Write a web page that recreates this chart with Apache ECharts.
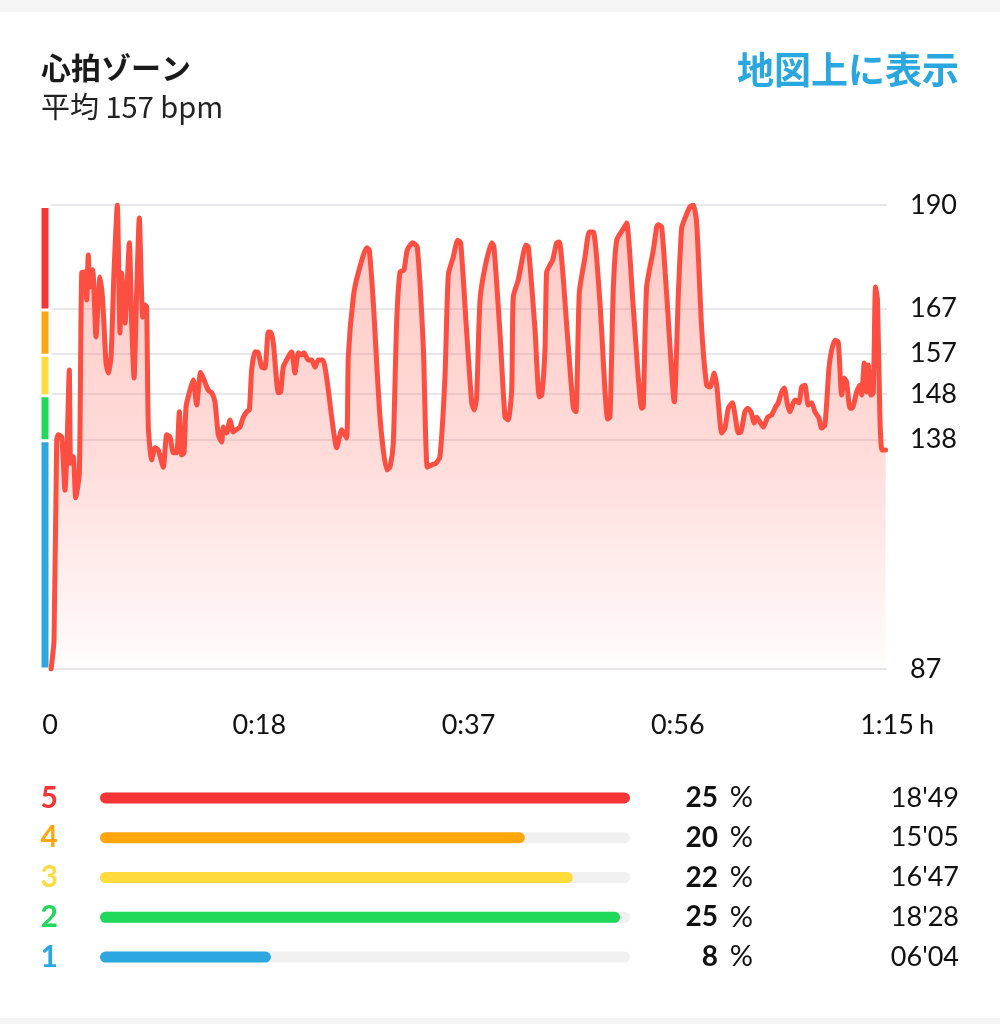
<!DOCTYPE html>
<html><head><meta charset="utf-8">
<script src="https://cdn.jsdelivr.net/npm/echarts@6/dist/echarts.min.js"></script>
<style>html,body{margin:0;padding:0;background:#fff}#c{width:1000px;height:1024px}</style>
</head><body><div id="c"></div>
<script>
// heart-rate samples: elapsed minutes and bpm
const minutes = [0.1,0.36,0.6,0.74,1.05,1.34,1.5,1.73,1.85,2.09,2.3,2.63,2.84,3.14,3.29,3.43,3.58,3.83,4.12,4.48,4.72,5.02,5.22,5.47,5.73,6.03,6.27,6.42,6.72,7.11,7.32,7.53,7.77,8.0,8.31,8.51,8.66,8.81,9.11,9.41,9.7,10.15,10.46,10.75,11.05,11.35,11.59,11.8,12.01,12.19,12.54,12.84,13.14,13.5,13.8,14.18,14.49,14.78,15.08,15.38,15.53,15.83,16.13,16.42,16.67,17.02,17.32,17.62,17.86,18.07,18.37,18.66,18.97,19.26,19.56,19.77,20.01,20.46,20.67,20.9,21.35,21.66,21.95,22.25,22.55,22.76,23.14,23.45,23.74,24.04,24.43,24.64,24.94,25.24,25.69,26.14,26.58,26.73,27.18,27.62,28.38,28.61,28.97,29.57,30.17,30.46,30.76,31.06,31.36,31.72,32.01,32.5,32.91,33.45,33.81,34.2,34.59,34.94,35.39,35.69,36.14,36.53,36.8,37.34,37.79,38.02,38.23,38.53,38.98,39.58,39.78,40.32,40.77,41.06,41.37,41.51,41.96,42.65,42.86,43.46,43.84,44.06,44.35,44.5,44.8,45.04,45.4,45.63,46.35,46.89,47.13,47.43,47.94,48.32,48.68,49.28,49.97,50.18,50.47,50.78,51.37,51.67,52.26,53.02,53.16,53.46,54.06,54.36,54.5,54.81,55.26,55.94,56.3,56.6,56.9,57.34,57.64,57.94,58.39,58.84,59.14,59.52,59.76,60.19,60.48,60.78,61.14,61.38,61.67,61.91,62.27,62.51,62.81,63.11,63.32,63.62,63.91,64.31,64.66,64.96,65.25,65.56,65.79,66.09,66.3,66.6,66.81,67.11,67.35,67.65,67.94,68.25,68.54,68.9,69.14,69.44,69.8,70.04,70.34,70.63,70.94,71.17,71.38,71.68,71.88,72.28,72.58,72.73,72.96,73.18,73.32,73.56,73.77,73.97,74.15,74.37,74.55,74.88];
const bpm = [87,93.4,137.8,139.0,138.5,126.7,134.1,153.4,132.7,134.1,125.0,130.5,174.9,175.1,168.9,178.9,171.8,175.6,160.7,174.0,168.9,154.9,152.7,156.3,174.9,190.0,161.6,174.9,163.8,181.6,163.8,151.6,171.1,187.1,165.1,167.8,167.4,140.7,133.4,136.1,135.6,131.8,139.0,138.5,135.0,135.0,144.1,134.5,135.0,145.2,148.9,151.2,145.6,152.9,151.2,148.9,148.3,146.3,139.0,137.4,140.7,139.4,142.3,139.6,140.1,140.7,142.9,144.1,144.5,153.4,157.4,157.2,154.0,153.8,161.8,161.8,159.4,148.3,148.5,154.0,156.3,157.4,152.7,157.2,156.7,157.2,155.6,155.6,154.0,155.6,155.6,154.0,148.9,142.9,136.1,140.1,138.3,156.3,169.6,174.9,180.5,180.0,168.3,142.9,131.2,131.8,137.2,163.8,175.1,175.6,180.0,181.6,180.7,158.5,131.8,132.3,132.7,134.1,151.8,174.5,178.5,182.2,181.6,161.6,146.1,144.5,147.4,168.9,176.2,181.6,180.7,161.6,142.9,142.3,148.9,169.6,173.4,181.1,180.7,162.3,147.4,147.8,157.8,175.1,176.7,177.8,181.6,181.8,161.6,144.9,144.1,170.5,178.5,184.0,184.0,168.3,142.5,142.9,171.1,182.2,184.7,186.0,167.4,144.9,145.2,171.8,180.0,185.1,185.6,185.1,170.0,146.3,170.0,184.9,187.1,189.6,190.0,186.2,162.7,150.0,149.6,152.7,149.6,139.4,140.5,144.9,146.1,143.4,139.4,139.6,144.1,144.9,144.1,141.6,142.9,141.8,140.7,142.9,143.4,144.9,146.1,148.5,149.4,145.6,144.1,146.1,146.7,146.1,149.6,150.0,145.6,146.1,144.1,142.7,140.5,141.2,153.8,157.8,160.0,159.6,147.8,151.6,150.7,144.9,144.9,148.5,150.0,147.8,154.9,148.5,154.5,147.8,148.3,171.8,168.9,142.3,135.6,135.6];

const yTicks = [87, 138, 148, 157, 167, 190];          // zone boundaries
const xTickLabels = ['0', '0:18', '0:37', '0:56', '1:15'];
const xUnit = 'h';
const xMaxMinutes = 75;

const zoneNames = ['5', '4', '3', '2', '1'];
const zoneColors = ['#f73436', '#ffa60d', '#ffdb3b', '#1fd95a', '#2ca7e0'];
const zoneUpper = [190, 167, 157, 148, 138];
const zonePct = [25, 20, 22, 25, 8];
const zoneSeconds = [1129, 905, 1007, 1108, 364];

const titleText = '心拍ゾーン';
const subText = '平均 157 bpm';
const linkText = '地図上に表示';

const NUM = 'Lato, "Open Sans", sans-serif';
const JP = '"Noto Sans CJK JP", sans-serif';

function fmtTime(s) {
  const m = Math.floor(s / 60), r = s % 60;
  return String(m).padStart(2, '0') + "'" + String(r).padStart(2, '0');
}

const chart = echarts.init(document.getElementById('c'), null, { renderer: 'canvas' });

const zoneSeries = zoneNames.map((n, i) => ({
  type: 'bar', xAxisIndex: 1, yAxisIndex: 1,
  data: [zoneUpper[i]], barWidth: 13, barGap: '-100%',
  itemStyle: { color: zoneColors[i], borderColor: '#fff', borderWidth: 3 },
  silent: true, z: 1
}));

const zoneRich = {};
zoneNames.forEach((n, i) => {
  zoneRich['z' + i] = { fontFamily: NUM, fontSize: 30, fontWeight: 'bold', color: zoneColors[i] };
});

chart.setOption({
  backgroundColor: '#fff',
  animation: false,
  title: [
    { text: titleText, subtext: subText, left: 41, top: 53, itemGap: 9, padding: 0,
      textStyle: { fontFamily: JP, fontSize: 30, fontWeight: 'bold', color: '#1a1a1a' },
      subtextStyle: { fontFamily: JP, fontSize: 29, color: '#222' } },
    { text: linkText, right: 41, top: 51, padding: 0,
      textStyle: { fontFamily: JP, fontSize: 37, fontWeight: 'bold', color: '#2aa7df' } }
  ],
  graphic: [
    { type: 'rect', shape: { x: 0, y: 0, width: 1000, height: 12 }, style: { fill: '#f5f5f5' }, silent: true },
    { type: 'rect', shape: { x: 0, y: 1018, width: 1000, height: 6 }, style: { fill: '#f5f5f5' }, silent: true },
    { type: 'text', left: 919, top: 712, silent: true,
      style: { text: xUnit, font: '27px ' + NUM, fill: '#111' } }
  ],
  grid: [
    { left: 50, right: 113, top: 205, bottom: 355, outerBoundsMode: 'none' },
    { left: 38.5, width: 13, top: 205, bottom: 355, outerBoundsMode: 'none' },
    { left: 100, right: 370, top: 778, bottom: 47, outerBoundsMode: 'none' }
  ],
  xAxis: [
    { type: 'value', gridIndex: 0, min: 0, max: xMaxMinutes, interval: xMaxMinutes / 4,
      axisLine: { show: false }, axisTick: { show: false }, splitLine: { show: false },
      axisLabel: { margin: 43, fontFamily: NUM, fontSize: 27, color: '#111',
        formatter: v => xTickLabels[Math.round(v / (xMaxMinutes / 4))] } },
    { type: 'category', gridIndex: 1, data: ['z'], show: false },
    { type: 'value', gridIndex: 2, min: 0, max: Math.max(...zoneSeconds), show: false }
  ],
  yAxis: [
    { type: 'value', gridIndex: 0, min: 87, max: 190, position: 'right',
      axisLine: { show: false },
      axisTick: { show: false, customValues: yTicks },
      axisLabel: { customValues: yTicks, margin: 23, fontFamily: NUM, fontSize: 27, color: '#111' },
      splitLine: { show: true, lineStyle: { color: '#e8e8ec', width: 2 } } },
    { type: 'value', gridIndex: 1, min: 87, max: 190, show: false },
    { type: 'category', gridIndex: 2, data: zoneNames, inverse: true,
      axisLine: { show: false }, axisTick: { show: false },
      axisLabel: { margin: 42,
        formatter: (v) => '{z' + zoneNames.indexOf(v) + '|' + v + '}',
        rich: zoneRich } },
    { type: 'category', gridIndex: 2, data: zoneNames, inverse: true, position: 'right',
      axisLine: { show: false }, axisTick: { show: false },
      axisLabel: { margin: 4,
        formatter: (v) => { const i = zoneNames.indexOf(v); return '{p|' + zonePct[i] + '}{u|%}{t|' + fmtTime(zoneSeconds[i]) + '}'; },
        rich: {
          p: { fontFamily: NUM, fontWeight: 'bold', fontSize: 28, color: '#111', width: 84, align: 'right' },
          u: { fontFamily: NUM, fontSize: 29, color: '#111', width: 35, align: 'right' },
          t: { fontFamily: NUM, fontSize: 27, color: '#111', width: 206, align: 'right' }
        } } }
  ],
  series: [
    { type: 'line', xAxisIndex: 0, yAxisIndex: 0,
      data: minutes.map((m, i) => [m, bpm[i]]),
      showSymbol: false, smooth: 0.2, z: 3,
      lineStyle: { color: '#fc4e41', width: 5, join: 'round', cap: 'round' },
      areaStyle: { color: new echarts.graphic.LinearGradient(0, 0, 0, 1, [
        { offset: 0, color: 'rgba(255,88,76,0.47)' },
        { offset: 0.53, color: 'rgba(255,88,76,0.30)' },
        { offset: 1, color: 'rgba(255,88,76,0.02)' }
      ]) } },
    ...zoneSeries,
    { type: 'bar', xAxisIndex: 2, yAxisIndex: 2,
      data: zoneSeconds.map((s, i) => ({ value: s, itemStyle: { color: zoneColors[i] } })),
      barWidth: 11,
      itemStyle: { borderRadius: 6 },
      showBackground: true, backgroundStyle: { color: '#f0f0f0', borderRadius: 6 } }
  ]
});
</script></body></html>
